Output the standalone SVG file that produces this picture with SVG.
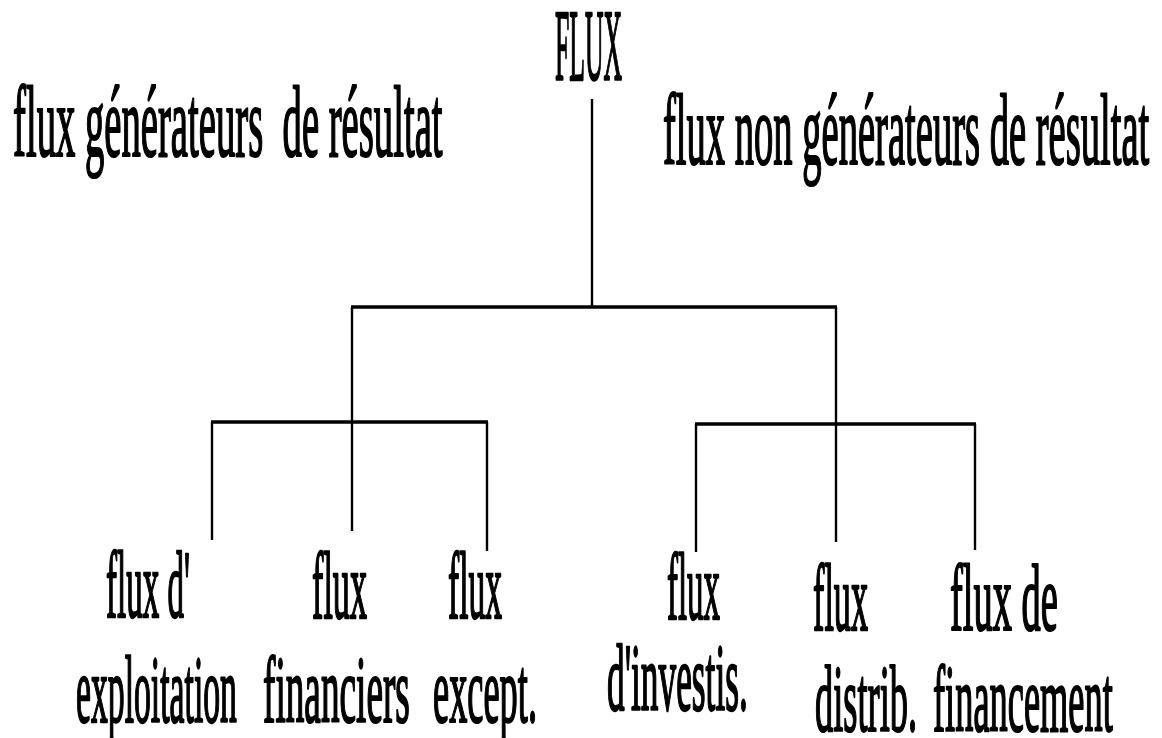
<svg xmlns="http://www.w3.org/2000/svg" width="1162" height="738" viewBox="0 0 1162 738">
<style>
text{font-family:"Liberation Serif","Times New Roman",serif;fill:#000;stroke:#000;stroke-width:1.7;vector-effect:non-scaling-stroke;stroke-linejoin:round;}
.h{font-size:101px;}
.b{font-size:96px;}
.hz{stroke:#000;stroke-width:3.5;fill:none;}
.vt{stroke:#000;stroke-width:2.4;fill:none;}
</style>
<rect width="1162" height="738" fill="#fff"/>
<g id="connectors">
<line class="vt" x1="592" y1="99" x2="592" y2="307"/>
<line class="hz" x1="351" y1="307" x2="837" y2="307"/>
<line class="vt" x1="352" y1="307" x2="352" y2="531"/>
<line class="vt" x1="836" y1="307" x2="836" y2="542"/>
<line class="hz" x1="211" y1="422" x2="488" y2="422"/>
<line class="vt" x1="212" y1="422" x2="212" y2="540"/>
<line class="vt" x1="487" y1="422" x2="487" y2="551"/>
<line class="hz" x1="695" y1="424" x2="976" y2="424"/>
<line class="vt" x1="696" y1="424" x2="696" y2="552"/>
<line class="vt" x1="975" y1="424" x2="975" y2="550"/>
</g>
<g id="flux-root"><text class="h" transform="translate(555,80) scale(0.254,1)">FLUX</text></g>
<g id="flux-generateurs"><text class="h" transform="translate(13,156) scale(0.383,1)" xml:space="preserve">flux générateurs  de résultat</text></g>
<g id="flux-non-generateurs"><text class="h" transform="translate(663,164) scale(0.382,1)">flux non générateurs de résultat</text></g>
<g id="flux-exploitation">
<text class="b" transform="translate(106,617) scale(0.344,1)">flux d'</text>
<text class="b" transform="translate(76,722) scale(0.351,1)">exploitation</text>
</g>
<g id="flux-financiers">
<text class="b" transform="translate(312,618) scale(0.356,1)">flux</text>
<text class="b" transform="translate(263,722) scale(0.388,1)">financiers</text>
</g>
<g id="flux-except">
<text class="b" transform="translate(448,618) scale(0.349,1)">flux</text>
<text class="b" transform="translate(433,722) scale(0.379,1)">except.</text>
</g>
<g id="flux-investis">
<text class="b" transform="translate(667,619) scale(0.343,1)">flux</text>
<text class="b" transform="translate(607,710) scale(0.368,1)">d'investis.</text>
</g>
<g id="flux-distrib">
<text class="b" transform="translate(813,630) scale(0.356,1)">flux</text>
<text class="b" transform="translate(815,731) scale(0.379,1)">distrib.</text>
</g>
<g id="flux-financement">
<text class="b" transform="translate(950,630) scale(0.401,1)">flux de</text>
<text class="b" transform="translate(933,731) scale(0.379,1)">financement</text>
</g>
</svg>
